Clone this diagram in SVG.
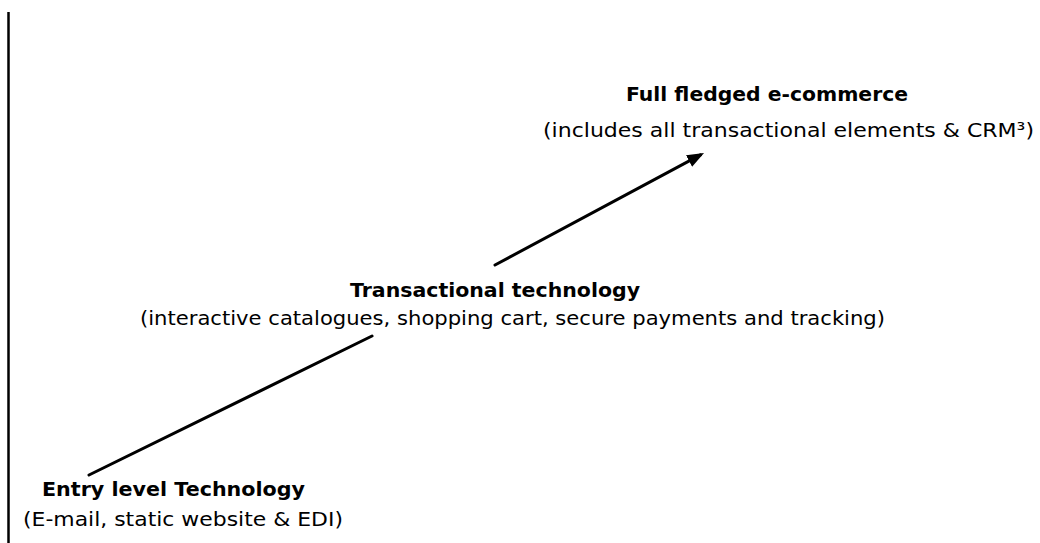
<svg xmlns="http://www.w3.org/2000/svg" width="1040" height="543" viewBox="0 0 1040 543">
  <style>
    .title { font-family: "DejaVu Sans", "Liberation Sans", sans-serif; font-weight: bold; font-size: 20px; fill: #000; }
    .sub { font-family: "DejaVu Sans", "Liberation Sans", sans-serif; font-size: 20px; fill: #000; }
    .link { stroke: #000; stroke-width: 3; fill: none; stroke-linecap: round; }
    .frame { stroke: #000; stroke-width: 2.5; }
  </style>
  <defs>
    <!-- solid triangular arrowhead, tip at the path end -->
    <marker id="head" markerUnits="userSpaceOnUse" markerWidth="18" markerHeight="14" refX="13" refY="6.5" orient="auto">
      <path d="M0,0 L17,6.5 L0,13 z" fill="#000"/>
    </marker>
  </defs>

  <rect width="1040" height="543" fill="#fff"/>

  <!-- left margin rule -->
  <g id="margin-rule">
    <line class="frame" x1="8.5" y1="12" x2="8.5" y2="543"/>
  </g>

  <!-- connectors -->
  <g id="connectors">
    <line class="link" x1="89" y1="475" x2="372" y2="336"/>
    <line class="link" x1="495" y1="265" x2="700.5" y2="154.9" marker-end="url(#head)"/>
  </g>

  <g id="entry-level">
    <text class="title" x="42" y="496" textLength="263" lengthAdjust="spacingAndGlyphs">Entry level Technology</text>
    <text class="sub" x="23" y="526" textLength="320" lengthAdjust="spacingAndGlyphs">(E-mail, static website &amp; EDI)</text>
  </g>

  <g id="transactional">
    <text class="title" x="350" y="297" textLength="290" lengthAdjust="spacingAndGlyphs">Transactional technology</text>
    <text class="sub" x="140" y="325" textLength="745" lengthAdjust="spacingAndGlyphs">(interactive catalogues, shopping cart, secure payments and tracking)</text>
  </g>

  <g id="full-ecommerce">
    <text class="title" x="626" y="101" textLength="282" lengthAdjust="spacingAndGlyphs">Full fledged e-commerce</text>
    <text class="sub" x="543" y="137" textLength="491" lengthAdjust="spacingAndGlyphs">(includes all transactional elements &amp; CRM³)</text>
  </g>
</svg>
